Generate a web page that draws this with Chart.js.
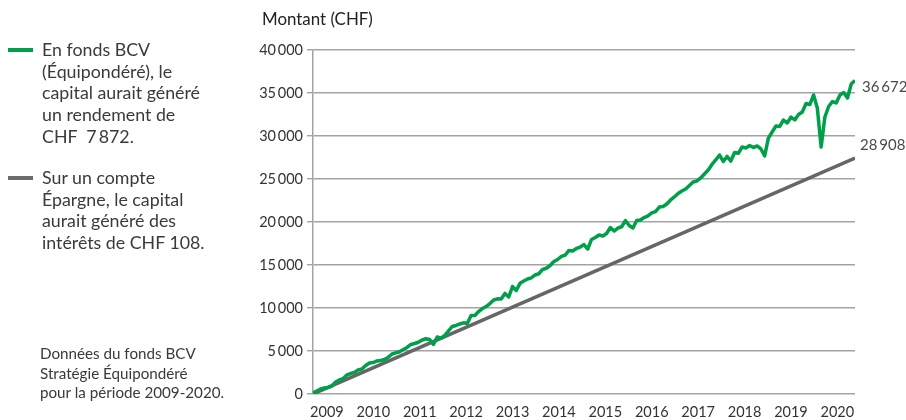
<!DOCTYPE html>
<html>
<head>
<meta charset="utf-8">
<script src="https://cdn.jsdelivr.net/npm/chart.js@4.4.1/dist/chart.umd.min.js"></script>
<style>
  body { margin: 0; background: #fff; }
  #wrap { position: relative; width: 906px; height: 420px; font-family: Lato, "Noto Sans", sans-serif; color: #3a3a3a; }
  #wrap canvas { position: absolute; left: 0; top: 0; }
  .txt { position: absolute; white-space: nowrap; }
  .legend { left: 42px; font-size: 17.8px; line-height: 21.7px; }
  .swatch { position: absolute; left: 8px; width: 25px; height: 4px; }
  .note { left: 40px; top: 344px; font-size: 15.2px; line-height: 19.5px; }
  .title { left: 262px; top: 9px; font-size: 16.9px; line-height: 20px; color: #222; }
</style>
</head>
<body>
<div id="wrap">
  <canvas id="chart" width="906" height="420"></canvas>
  <div class="txt title">Montant (CHF)</div>
  <div class="swatch" style="top:48px;background:#00a04b"></div>
  <div class="txt legend" style="top:39px">En fonds BCV<br>(Équipondéré), le<br>capital aurait généré<br>un rendement de<br>CHF&nbsp; 7&#8201;872.</div>
  <div class="swatch" style="top:176px;background:#6b6b6b"></div>
  <div class="txt legend" style="top:167px">Sur un compte<br>Épargne, le capital<br>aurait généré des<br>intérêts de CHF 108.</div>
  <div class="txt note">Données du fonds BCV<br>Stratégie Équipondéré<br>pour la période 2009-2020.</div>
</div>
<script>
// year labels on the time axis
const years = [2009, 2010, 2011, 2012, 2013, 2014, 2015, 2016, 2017, 2018, 2019, 2020];
const xStart = 2008.7;
const xEnd = 2020.38;

// monthly value of the BCV fund (CHF)
const fundValues = [
  100, 350, 580, 700, 760, 930, 1400, 1630, 1800, 2210,
  2380, 2500, 2790, 2910, 3310, 3600, 3660, 3840, 3900, 4010,
  4270, 4650, 4790, 4910, 5170, 5410, 5760, 5870, 6020, 6280,
  6420, 6340, 5760, 6630, 6480, 6800, 7330, 7850, 7970, 8140,
  8280, 8200, 9130, 9130, 9590, 9940, 10170, 10520, 10930, 11070,
  11050, 11690, 11280, 12500, 12040, 12870, 13140, 13370, 13510, 13840,
  13980, 14480, 14620, 14940, 15410, 15640, 15990, 16160, 16690, 16630,
  16920, 17090, 17380, 16860, 17970, 18200, 18490, 18370, 18660, 19360,
  18950, 19300, 19450, 20170, 19590, 19300, 20170, 20230, 20520, 20700,
  21050, 21220, 21740, 21800, 22090, 22560, 22910, 23310, 23610, 23840,
  24250, 24650, 24770, 25120, 25580, 26050, 26690, 27210, 27790, 27040,
  27620, 27090, 28080, 27990, 28720, 28610, 28900, 28660, 28840, 28490,
  27680, 29770, 30470, 31160, 31110, 31860, 31510, 32210, 31860, 32500,
  32790, 33780, 33660, 34770, 33220, 28720, 32210, 33430, 34010, 33840,
  34770, 35060, 34420, 36050, 36460
];

// savings account: straight line from start to end
const savingsValues = [0, 27440];

// final amounts written at the right end
const endAmounts = [36672, 28908];

function fmt(v) {
  return String(v).replace(/\B(?=(\d{3})+(?!\d))/g, '\u2009');
}

const step = (xEnd - xStart) / (fundValues.length - 1);
const fundPoints = fundValues.map((v, i) => ({ x: xStart + i * step, y: v }));
const savingsPoints = [{ x: xStart, y: savingsValues[0] }, { x: xEnd, y: savingsValues[1] }];

const endLabels = {
  id: 'endLabels',
  afterDatasetsDraw(chart) {
    const { ctx, chartArea, scales } = chart;
    ctx.save();
    ctx.font = '15px Lato, "Noto Sans", sans-serif';
    ctx.fillStyle = '#4a4a4a';
    ctx.textBaseline = 'middle';
    ctx.fillText(fmt(endAmounts[0]), chartArea.right + 7, scales.y.getPixelForValue(endAmounts[0]) + 9);
    ctx.fillText(fmt(endAmounts[1]), chartArea.right + 5, scales.y.getPixelForValue(endAmounts[1]));
    ctx.restore();
  }
};

const gridGrey = '#a3a3a3';

new Chart(document.getElementById('chart'), {
  type: 'line',
  data: {
    datasets: [{
      label: 'Épargne',
      data: savingsPoints,
      borderColor: '#666666',
      borderWidth: 3.5,
      pointRadius: 0,
      tension: 0,
      order: 2
    }, {
      label: 'Fonds BCV',
      data: fundPoints,
      borderColor: '#00a04b',
      borderWidth: 3.5,
      pointRadius: 0,
      tension: 0,
      borderJoinStyle: 'round',
      order: 1
    }]
  },
  options: {
    responsive: false,
    animation: false,
    layout: { padding: { top: 50, right: 51, bottom: 0, left: 0 } },
    plugins: { legend: { display: false }, tooltip: { enabled: false } },
    scales: {
      x: {
        type: 'linear',
        min: xStart,
        max: xEnd,
        afterBuildTicks: axis => { axis.ticks = years.map(v => ({ value: v })); },
        afterFit: axis => { axis.height = 26; },
        grid: { display: false, drawTicks: false },
        border: { display: false },
        ticks: {
          autoSkip: false,
          maxRotation: 0,
          padding: 10,
          color: '#333',
          font: { family: 'Lato', size: 14.5 },
          callback: v => String(v)
        }
      },
      y: {
        min: 0,
        max: 40000,
        afterFit: axis => { axis.width = 313; },
        grid: { color: gridGrey, lineWidth: 1.4, tickLength: 6, tickColor: gridGrey },
        border: { color: gridGrey, width: 1.5 },
        ticks: {
          stepSize: 5000,
          padding: 4,
          color: '#333',
          font: { family: 'Lato', size: 14.5 },
          callback: v => fmt(v)
        }
      }
    }
  },
  plugins: [endLabels]
});
</script>
</body>
</html>
